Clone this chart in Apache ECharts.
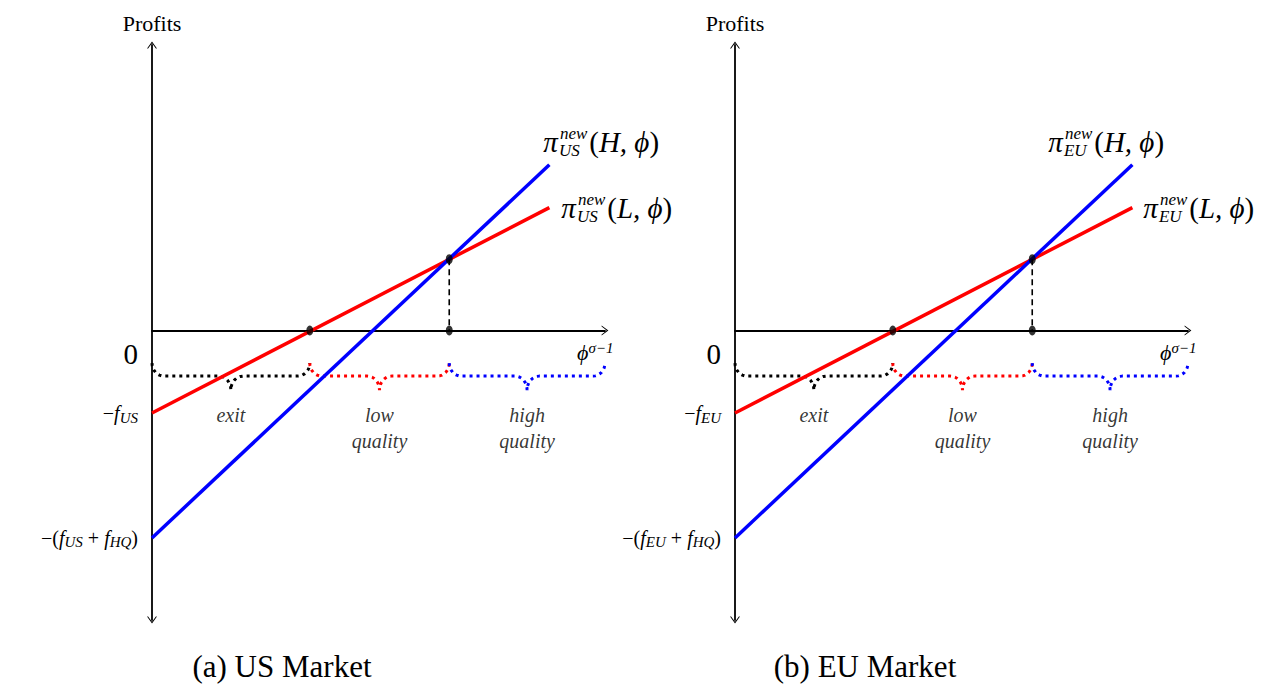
<!DOCTYPE html>
<html>
<head>
<meta charset="utf-8">
<script src="https://cdn.jsdelivr.net/npm/echarts@6/dist/echarts.min.js"></script>
<style>
  html, body { margin: 0; padding: 0; background: #fff; }
  #chart { width: 1271px; height: 684px; }
</style>
</head>
<body>
<div id="chart"></div>
<script>
// Axis ranges: x is phi^(sigma-1), y is profits
const phiMax = 11.4;
const profitMin = -7.3;
const profitMax = 7.2;

// Profit lines (start and end) for low (L) and high (H) quality
const usLow = [[0, -2.08], [10, 3.1]];
const usHigh = [[0, -5.23], [10, 4.18]];
const euLow = [[0, -2.08], [10, 3.1]];
const euHigh = [[0, -5.23], [10, 4.18]];

// Productivity cutoffs: exit / low quality / high quality
const usCutoffs = [3.97, 7.48];
const euCutoffs = [3.97, 7.48];

// Marked points: zero-profit cutoff, L/H crossing, and its foot on the axis
const usKinks = [[3.97, 0], [7.48, 1.8], [7.48, 0]];
const euKinks = [[3.97, 0], [7.48, 1.8], [7.48, 0]];

const regionNames = ['exit', 'low\nquality', 'high\nquality'];
const regionColors = ['#000000', '#ff0000', '#0000ff'];
const markets = ['US', 'EU'];
const captions = ['(a) US Market', '(b) EU Market'];

const SERIF = "'Liberation Serif', 'DejaVu Serif', serif";
const RED = '#ff0000';
const BLUE = '#0000ff';
const ARROW = 'path://M0,6.8 L5,0 L10,6.8 L8.9,6.8 L5,1.7 L1.1,6.8 Z';

const panels = [
  { market: markets[0], left: 152, low: usLow, high: usHigh, cut: usCutoffs, kinks: usKinks,
    highShift: -6, lowShift: 12, caption: captions[0], captionX: 282 },
  { market: markets[1], left: 735, low: euLow, high: euHigh, cut: euCutoffs, kinks: euKinks,
    highShift: -84, lowShift: 11, caption: captions[1], captionX: 865 }
];

const lineRich = {
  pi: { fontFamily: SERIF, fontSize: 29, fontStyle: 'italic', lineHeight: 36, color: '#000' },
  m: { fontFamily: SERIF, fontSize: 29, lineHeight: 36, color: '#000' },
  mi: { fontFamily: SERIF, fontSize: 29, fontStyle: 'italic', lineHeight: 36, color: '#000' },
  sup: { fontFamily: SERIF, fontSize: 17, fontStyle: 'italic', lineHeight: 17, verticalAlign: 'top',
         padding: [1, 2, 0, 1], color: '#000' },
  sub: { fontFamily: SERIF, fontSize: 17, fontStyle: 'italic', lineHeight: 17, verticalAlign: 'bottom',
         padding: [0, 0, 1, 1], width: 0, align: 'left', color: '#000' }
};

const yRich = {
  y: { fontFamily: SERIF, fontSize: 20, lineHeight: 24, color: '#000' },
  yi: { fontFamily: SERIF, fontSize: 20, fontStyle: 'italic', lineHeight: 24, color: '#000' },
  ys: { fontFamily: SERIF, fontSize: 15, fontStyle: 'italic', lineHeight: 15, verticalAlign: 'bottom', color: '#000' },
  zero: { fontFamily: SERIF, fontSize: 29, lineHeight: 30, padding: [47, 0, 0, 0], color: '#000' }
};

const xNameRich = {
  phi: { fontFamily: SERIF, fontSize: 22, fontStyle: 'italic', lineHeight: 24, color: '#000' },
  sup: { fontFamily: SERIF, fontSize: 15, fontStyle: 'italic', lineHeight: 15, verticalAlign: 'top', color: '#000' }
};

function profitLabel(mkt, q) {
  return '{pi|π}{sub|' + mkt + '}{sup|new}{m|(}{mi|' + q + ', ϕ}{m|)}';
}

// Dotted curly brace under the axis spanning [a, b]
function brace(a, b) {
  const r = 0.3, yTop = -0.82, yMid = -1.15, yTip = -1.5, m = (a + b) / 2, n = 8;
  const pts = [];
  const q = Math.PI / 2;
  for (let i = 0; i <= n; i++) { const t = i / n * q; pts.push([a + r * (1 - Math.cos(t)), yTop + (yMid - yTop) * Math.sin(t)]); }
  for (let i = 0; i <= n; i++) { const t = i / n * q; pts.push([m - r + r * Math.sin(t), yMid + (yTip - yMid) * (1 - Math.cos(t))]); }
  for (let i = 0; i <= n; i++) { const t = i / n * q; pts.push([m + r * (1 - Math.cos(t)), yTip + (yMid - yTip) * Math.sin(t)]); }
  for (let i = 0; i <= n; i++) { const t = i / n * q; pts.push([b - r + r * Math.sin(t), yMid + (yTop - yMid) * (1 - Math.cos(t))]); }
  return { pts: pts, tip: [m, yTip] };
}

const grid = [], xAxis = [], yAxis = [], series = [];

panels.forEach(function (p, i) {
  grid.push({ left: p.left, top: 45, width: 453, height: 575, outerBoundsMode: 'none', containLabel: false });

  xAxis.push({
    type: 'value', gridIndex: i, min: 0, max: phiMax,
    axisLine: { show: true, onZero: true, symbol: ['none', ARROW], symbolSize: [10, 6.8],
                lineStyle: { color: '#000', width: 1.8 } },
    axisTick: { show: false }, splitLine: { show: false }, axisLabel: { show: false },
    name: '{phi|ϕ}{sup|σ−1}', nameLocation: 'end', nameGap: -28,
    nameTextStyle: { align: 'left', verticalAlign: 'top', padding: [10, 0, 0, 0], rich: xNameRich }
  });

  const lowV = p.low[0][1], highV = p.high[0][1];
  yAxis.push({
    type: 'value', gridIndex: i, min: profitMin, max: profitMax,
    axisLine: { show: true, onZero: false, symbol: [ARROW, ARROW], symbolSize: [10, 6.8],
                lineStyle: { color: '#000', width: 1.8 } },
    axisTick: { show: false }, splitLine: { show: false },
    axisLabel: {
      show: true, customValues: [0, lowV, highV], margin: 14, rich: yRich,
      formatter: function (v) {
        if (Math.abs(v) < 1e-6) return '{zero|0}';
        if (Math.abs(v - lowV) < 1e-6) return '{y|−}{yi|f}{ys|' + p.market + '}';
        return '{y|−(}{yi|f}{ys|' + p.market + '}{y| + }{yi|f}{ys|HQ}{y|)}';
      }
    },
    name: 'Profits', nameLocation: 'end', nameGap: 11,
    nameTextStyle: { fontFamily: SERIF, fontSize: 22, color: '#000' }
  });

  // Dotted braces and their region names
  const tips = [];
  const bounds = [0, p.cut[0], p.cut[1], phiMax];
  for (let k = 0; k < 3; k++) {
    const b = brace(bounds[k], bounds[k + 1]);
    tips.push(b.tip);
    series.push({
      type: 'line', xAxisIndex: i, yAxisIndex: i, data: b.pts, showSymbol: false, silent: true,
      z: 1, lineStyle: { color: regionColors[k], width: 3, type: [3, 4], cap: 'butt' }
    });
  }
  series.push({
    type: 'scatter', xAxisIndex: i, yAxisIndex: i, silent: true, z: 1,
    symbolSize: 0.01, itemStyle: { color: 'rgba(0,0,0,0)' },
    data: tips,
    label: {
      show: true, position: 'bottom', distance: 12,
      formatter: function (d) { return regionNames[d.dataIndex]; },
      fontFamily: SERIF, fontSize: 20, fontStyle: 'italic', lineHeight: 26, color: '#000', align: 'center'
    }
  });

  // Profit lines with their names at the far end
  function withEndLabel(arr, q, shift, dy) {
    return arr.map(function (pt, k) {
      if (k !== arr.length - 1) return pt;
      return { value: pt, label: { show: true, position: [shift, dy], align: 'left', verticalAlign: 'middle',
               formatter: profitLabel(p.market, q), rich: lineRich } };
    });
  }
  series.push({
    type: 'line', xAxisIndex: i, yAxisIndex: i, z: 3, silent: true,
    data: withEndLabel(p.low, 'L', p.lowShift, 0),
    symbol: 'circle', symbolSize: 0.01, showSymbol: true,
    itemStyle: { color: RED }, lineStyle: { color: RED, width: 3.5 }
  });
  series.push({
    type: 'line', xAxisIndex: i, yAxisIndex: i, z: 4, silent: true,
    data: withEndLabel(p.high, 'H', p.highShift, -23),
    symbol: 'circle', symbolSize: 0.01, showSymbol: true,
    itemStyle: { color: BLUE }, lineStyle: { color: BLUE, width: 3.5 }
  });

  // Dashed drop from the crossing to the axis
  series.push({
    type: 'line', xAxisIndex: i, yAxisIndex: i, z: 5, silent: true,
    data: [p.kinks[1], p.kinks[2]], showSymbol: false,
    lineStyle: { color: '#000', width: 1.6, type: [6, 4] }
  });
  series.push({
    type: 'scatter', xAxisIndex: i, yAxisIndex: i, z: 6, silent: true,
    data: p.kinks, symbol: 'circle', symbolSize: [7, 10], itemStyle: { color: '#000' }
  });
});

const chart = echarts.init(document.getElementById('chart'), null, { renderer: 'svg' });
chart.setOption({
  animation: false,
  backgroundColor: '#fff',
  grid: grid,
  xAxis: xAxis,
  yAxis: yAxis,
  series: series,
  graphic: panels.map(function (p) {
    return {
      type: 'text', x: p.captionX, y: 666, silent: true,
      style: { text: p.caption, fontFamily: SERIF, fontSize: 31, fill: '#000',
               textAlign: 'center', textVerticalAlign: 'middle' }
    };
  })
});
</script>
</body>
</html>
